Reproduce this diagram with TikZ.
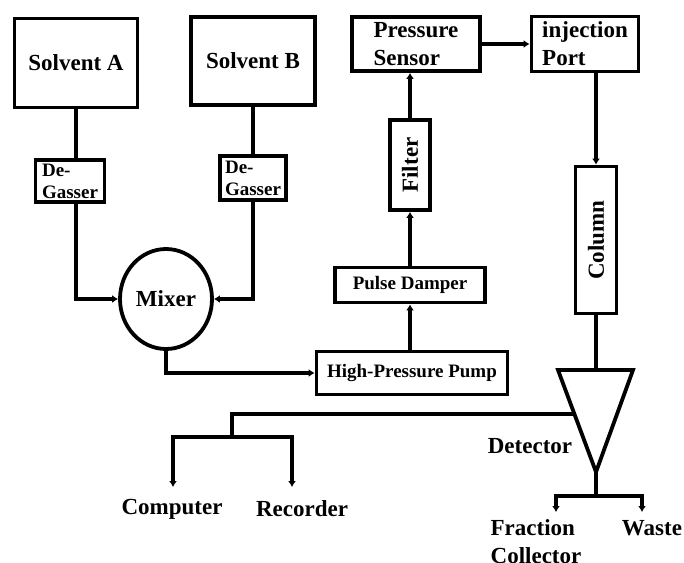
\documentclass[tikz,border=0pt]{standalone}
\usepackage{fontspec}
\usepackage{graphicx}
\setmainfont{Liberation Serif}
\usetikzlibrary{positioning,calc,arrows.meta,shapes.geometric}

\begin{document}
\begin{tikzpicture}[>={Latex[length=6pt,width=8pt]}, x=1pt, y=-1pt]

    %
    % Styles for units, and flow lines
    %
    \tikzstyle{unitName} = [align=left, font={\fontsize{23}{28}\selectfont\bfseries}, text=black]
    \tikzstyle{smallName} = [align=left, font={\fontsize{19}{22}\selectfont\bfseries}, text=black]
    \tikzstyle{ubox} = [draw, line width=3.8pt, rectangle, inner sep=2pt]
    \tikzstyle{unit} = [ubox, unitName]
    \tikzstyle{smallUnit} = [ubox, smallName]
    \tikzstyle{outline} = [draw, line width=3.8pt, line join=miter]
    \tikzstyle{pipe} = [black, line width=3.4pt];
    \tikzstyle{flow} = [pipe,->];
    \tikzstyle{plainText} = [unitName, inner sep=0pt];

    \useasboundingbox (0,0) rectangle (684,562);

    %
    % Position Units
    %
    \node[unit, name=solventA, minimum width=123, minimum height=89] at (76,63) {Solvent A};
    \node[unit, name=solventB, minimum width=124, minimum height=88] at (253,61) {Solvent B};
    \node[smallUnit, name=degasserA, minimum width=69, minimum height=42] at (70,181) {De-\\Gasser};
    \node[smallUnit, name=degasserB, minimum width=66, minimum height=44] at (253,178) {De-\\Gasser};
    \node[unit, ellipse, name=mixer, minimum width=92, minimum height=100, inner sep=0pt] at (166,299) {Mixer};
    \node[smallUnit, name=pump, minimum width=191, minimum height=43] at (412,373) {High-Pressure Pump};
    \node[smallUnit, name=damper, minimum width=150, minimum height=35] at (410,285) {Pulse Damper};
    \node[unit, name=filter, minimum width=40, minimum height=90] at (410,165) {\rotatebox{90}{Filter}};
    \node[unit, name=sensor, minimum width=128, minimum height=54] at (416,44) {Pressure\\Sensor};
    \node[unit, name=port, minimum width=107, minimum height=55] at (585,44) {injection\\Port};
    \node[unit, name=column, minimum width=41, minimum height=147] at (596,240) {\rotatebox{90}{Column}};

    \coordinate (detTL) at (558,370);
    \coordinate (detTR) at (633,370);
    \coordinate (detTip) at (596,472);
    \coordinate (detSide) at ($(detTL)!0.43!(detTip)$);
    \coordinate (signalBus) at (232,437);
    \coordinate (toComputer) at (173,487);
    \coordinate (toRecorder) at (292,487);
    \coordinate (drain) at (596,496);
    \coordinate (toFraction) at (556,512);
    \coordinate (toWaste) at (642,512);

    \node[plainText, name=detector] at (530,446) {Detector};
    \node[plainText, name=computer] at (172,509) {Computer};
    \node[plainText, name=recorder] at (302,509) {Recorder};
    \node[plainText, name=fraction] at (536,542) {Fraction\\Collector};
    \node[plainText, name=waste] at (652,528) {Waste};

    %
    % Connect Units via lines
    %
    \draw[pipe] (solventA) -- (solventA |- degasserA.north);
    \draw[flow] (solventA |- degasserA.south) |- (mixer);
    \draw[pipe] (solventB) -- (degasserB);
    \draw[flow] (degasserB) |- (mixer);
    \draw[flow] (mixer) |- (pump);
    \draw[flow] (pump.north -| damper) -- (damper);
    \draw[flow] (damper) -- (filter);
    \draw[flow] (filter) -- (filter |- sensor.south);
    \draw[flow] (sensor) -- (port);
    \draw[flow] (column |- port.south) -- (column);
    \draw[pipe] (column) -- (column |- detTL);
    \draw[outline] (detTL) -- (detTR) -- (detTip) -- cycle;
    \draw[pipe] (detSide) -| (signalBus);
    \draw[flow] (signalBus) -| (toComputer);
    \draw[flow] (signalBus) -| (toRecorder);
    \draw[pipe] (detTip) -- (drain);
    \draw[flow] (drain) -| (toFraction);
    \draw[flow] (drain) -| (toWaste);
  \end{tikzpicture}
\end{document}
